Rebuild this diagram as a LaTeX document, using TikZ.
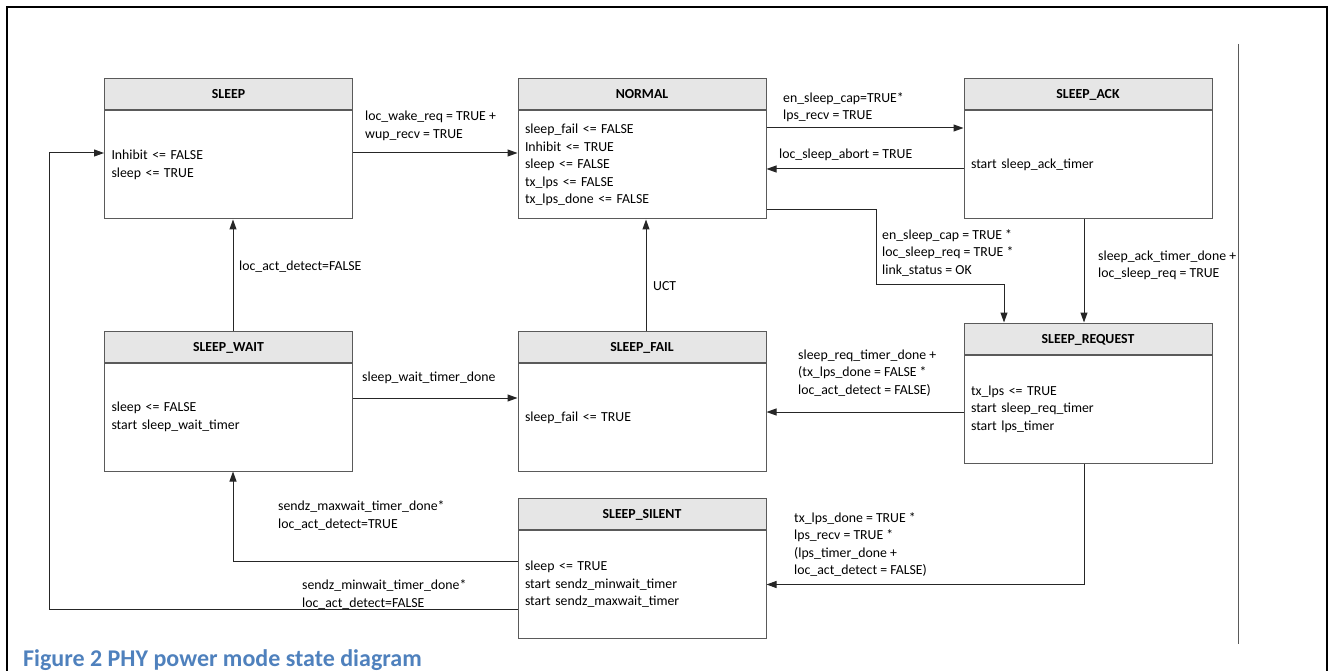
\documentclass[tikz,border=0pt]{standalone}
\usepackage{fontspec}
\setmainfont{Carlito}
\usetikzlibrary{arrows.meta,positioning}
\definecolor{linegray}{RGB}{90,90,90}
\definecolor{headgray}{RGB}{230,230,230}
\definecolor{capblue}{RGB}{79,129,189}
\newcommand{\statefont}{\fontsize{13.8pt}{17.5pt}\selectfont}

\begin{document}
\begin{tikzpicture}[
    x=1pt, y=-1pt,
    state/.style={
        rectangle,
        draw=linegray,
        line width=1pt,
        fill=white,
        align=left,
        text width=234pt,
        inner xsep=7pt,
        minimum height=108pt,
        font=\statefont
    },
    head/.style={
        rectangle,
        draw=linegray,
        line width=1pt,
        fill=headgray,
        minimum width=248pt,
        minimum height=31pt,
        inner sep=0pt,
        text height=9pt,
        text depth=0pt,
        font=\statefont\bfseries
    },
    lbl/.style={
        anchor=west,
        align=left,
        inner sep=0pt,
        font=\statefont
    },
    arrow/.style={
        -{Triangle[length=10pt,width=7pt]},
        draw=black!85,
        line width=1pt
    }
]
\useasboundingbox (0,0) rectangle (1331,671);

% Rahmen
\draw[line width=2.5pt] (7,671) |- (1327,7) -- (1327,671);
\draw[linegray, line width=1pt] (1238,44) -- (1238,644);

% Zustaende
\node[state] (sleep) at (228.5,165) {Inhibit <= FALSE\\sleep <= TRUE};
\node[head, above=0pt of sleep] (sleepH) {SLEEP};
\node[state] (normal) at (642,165) {sleep\_fail <= FALSE\\Inhibit <= TRUE\\sleep <= FALSE\\tx\_lps <= FALSE\\tx\_lps\_done <= FALSE};
\node[head, above=0pt of normal] (normalH) {NORMAL};
\node[state] (ack) at (1088,165) {start sleep\_ack\_timer};
\node[head, above=0pt of ack] (ackH) {SLEEP\_ACK};
\node[state] (wait) at (228.5,417) {sleep <= FALSE\\start sleep\_wait\_timer};
\node[head, above=0pt of wait] (waitH) {SLEEP\_WAIT};
\node[state] (fail) at (642,417.5) {sleep\_fail <= TRUE};
\node[head, above=0pt of fail] (failH) {SLEEP\_FAIL};
\node[state] (req) at (1088,409) {tx\_lps <= TRUE\\start sleep\_req\_timer\\start lps\_timer};
\node[head, above=0pt of req] (reqH) {SLEEP\_REQUEST};
\node[state] (silent) at (642,584.5) {sleep <= TRUE\\start sendz\_minwait\_timer\\start sendz\_maxwait\_timer};
\node[head, above=0pt of silent] (silentH) {SLEEP\_SILENT};

% Hilfspunkte
\coordinate (kneeReq) at (876,284);
\coordinate (loopL) at (49,609);
\coordinate (reqOut) at ([yshift=-3pt]req.west);
\coordinate (waitOut) at ([yshift=19pt]wait.east);

% Uebergaenge
\draw[arrow] ([yshift=12pt]sleep.east) -- ([yshift=12pt]normal.west);
\draw[arrow] ([yshift=37pt]normal.east) -- ([yshift=37pt]ack.west);
\draw[arrow] ([yshift=-4pt]ack.west) -- ([yshift=-4pt]normal.east);
\draw[arrow] ([yshift=-45pt]normal.east) -| (kneeReq) -| ([xshift=-84pt]reqH.north);
\draw[arrow] ([xshift=-4pt]ack.south) -- ([xshift=-4pt]reqH.north);
\draw[arrow] (reqOut) -- (reqOut -| fail.east);
\draw[arrow] ([xshift=-4pt]req.south) |- (silent.east);
\draw[arrow] ([xshift=4pt]failH.north) -- ([xshift=4pt]normal.south);
\draw[arrow] ([xshift=4.5pt]waitH.north) -- ([xshift=4.5pt]sleep.south);
\draw[arrow] (waitOut) -- (waitOut -| fail.west);
\draw[arrow] ([yshift=23.5pt]silent.west) -| ([xshift=4.5pt]wait.south);
\draw[arrow] ([yshift=-24.5pt]silent.west) -- (loopL) |- ([yshift=12pt]sleep.west);

% Bedingungen
\node[lbl] (lWake) at (365,126) {loc\_wake\_req = TRUE +\\wup\_recv = TRUE};
\node[lbl] (lCap) at (783,107) {en\_sleep\_cap=TRUE*\\lps\_recv = TRUE};
\node[lbl] (lAbort) at (779,155) {loc\_sleep\_abort = TRUE};
\node[lbl] (lReq) at (882,253) {en\_sleep\_cap = TRUE *\\loc\_sleep\_req = TRUE *\\link\_status = OK};
\node[lbl] (lAckDone) at (1098,265.5) {sleep\_ack\_timer\_done +\\loc\_sleep\_req = TRUE};
\node[lbl] (lReqDone) at (798,373) {sleep\_req\_timer\_done +\\(tx\_lps\_done = FALSE *\\loc\_act\_detect = FALSE)};
\node[lbl] (lLps) at (794,544.5) {tx\_lps\_done = TRUE *\\lps\_recv = TRUE *\\(lps\_timer\_done +\\loc\_act\_detect = FALSE)};
\node[lbl] (lUct) at (653,286) {UCT};
\node[lbl] (lActF) at (239,267) {loc\_act\_detect=FALSE};
\node[lbl] (lWaitDone) at (362,378) {sleep\_wait\_timer\_done};
\node[lbl] (lMax) at (278,515.5) {sendz\_maxwait\_timer\_done*\\loc\_act\_detect=TRUE};
\node[lbl] (lMin) at (302,594.5) {sendz\_minwait\_timer\_done*\\loc\_act\_detect=FALSE};

% Bildunterschrift
\node[anchor=west, inner sep=0pt, text=capblue, font=\fontsize{24pt}{28pt}\selectfont\bfseries] (caption) at (23,660) {Figure 2 PHY power mode state diagram};
\end{tikzpicture}
\end{document}
